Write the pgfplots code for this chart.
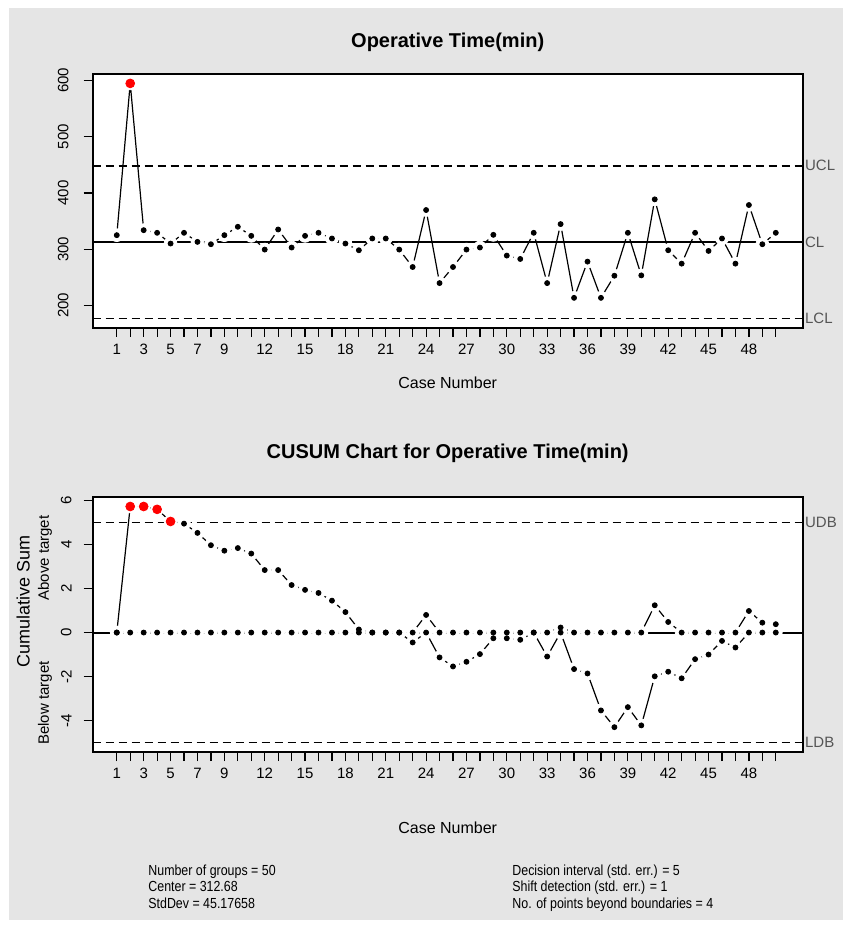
\documentclass[border=0pt]{standalone}
\usepackage{pgfplots}
\pgfplotsset{compat=1.18}
\usepackage{pgfplotstable}
\usepackage{fontspec}
\setmainfont{Liberation Sans}
\newfontfamily\narrowfont{Liberation Sans}[FakeStretch=0.85]
\definecolor{bggray}{RGB}{229,229,229}
\definecolor{lblgray}{RGB}{85,85,85}

\pgfplotstableread{
x y
1 324.9
2 594.7
3 333.8
4 329.1
5 310.0
6 329.1
7 313.0
8 308.8
9 324.9
10 339.8
11 323.7
12 299.3
13 335.0
14 302.9
15 323.7
16 329.1
17 319.0
18 310.0
19 298.1
20 319.0
21 319.0
22 299.3
23 268.3
24 369.6
25 239.7
26 268.3
27 299.3
28 302.9
29 325.5
30 288.6
31 282.6
32 329.1
33 239.7
34 344.6
35 213.5
36 277.9
37 213.5
38 252.8
39 329.1
40 253.4
41 388.6
42 298.1
43 274.3
44 329.1
45 296.9
46 319.0
47 274.3
48 378.5
49 308.8
50 329.1
}\optime

\pgfplotstableread{
x up lo
1 0 0
2 5.73 0
3 5.73 0
4 5.60 0
5 5.05 0
6 4.95 0
7 4.53 0
8 3.97 0
9 3.72 0
10 3.84 0
11 3.59 0
12 2.84 0
13 2.84 0
14 2.16 0
15 1.94 0
16 1.80 0
17 1.45 0
18 0.93 0
19 0.14 0
20 0 0
21 0 0
22 0 0
23 0 -0.45
24 0.80 0
25 0 -1.13
26 0 -1.54
27 0 -1.33
28 0 -0.98
29 0 -0.26
30 0 -0.26
31 0 -0.33
32 0 0
33 0 -1.09
34 0.23 0
35 0 -1.66
36 0 -1.86
37 0 -3.54
38 0 -4.30
39 0 -3.39
40 0 -4.22
41 1.24 -1.99
42 0.48 -1.78
43 0 -2.08
44 0 -1.21
45 0 -1.00
46 0 -0.38
47 0 -0.68
48 0.98 0
49 0.45 0
50 0.38 0
}\cusum

\pgfplotsset{
  qccaxis/.style={
    width=355pt, scale only axis,
    xmin=-0.79, xmax=52,
    axis background/.style={fill=white},
    axis line style={line width=0.9pt},
    tick align=outside, xtick pos=bottom, ytick pos=left,
    xtick={1,3,5,7,9,12,15,18,21,24,27,30,33,36,39,42,45,48},
    minor xtick={1,...,50},
    major tick length=4.5pt, minor tick length=4.5pt,
    every tick/.style={black, line width=0.6pt},
    minor tick style={black, line width=0.6pt},
    yticklabel style={rotate=90, anchor=south, font=\fontsize{7.5}{9}\selectfont},
    xticklabel style={font=\fontsize{7.5}{9}\selectfont},
    /pgf/number format/assume math mode=true,
    clip=false,
  },
  dataline/.style={black, line width=0.6pt, no marks},
  halo/.style={only marks, color=white, mark=*, mark size=3.2pt},
  dots/.style={only marks, color=black, mark=*, mark size=1.25pt},
  reddots/.style={only marks, color=red, mark=*, mark size=2.2pt},
  refsolid/.style={black, line width=1pt, no marks},
  refdash/.style={black, line width=0.7pt, dash pattern=on 4pt off 2.5pt, no marks},
}

\begin{document}
\begin{tikzpicture}
\path[use as bounding box] (0,0) rectangle (422.5pt,-463.5pt);
\fill[white] (0,0) rectangle (422.5pt,-463.5pt);
\fill[bggray] (4.5pt,-4.2pt) rectangle (421.5pt,-460pt);

% ---------- top chart ----------
\node[font=\bfseries\fontsize{10}{12}\selectfont] at (223.85pt,-21.3pt) {Operative Time(min)};
\begin{axis}[qccaxis,
  at={(46.35pt,-37pt)}, anchor=north west, height=126.85pt,
  ymin=160.4, ymax=611.4, ytick={200,300,400,500,600},
  yticklabel shift=4pt]
  \addplot[dataline] table[x=x,y=y] {\optime};
  \addplot[halo] table[x=x,y=y] {\optime};
  \addplot[refsolid] coordinates {(-0.79,312.68) (52,312.68)};
  \addplot[refdash] coordinates {(-0.79,448.21) (52,448.21)};
  \addplot[refdash] coordinates {(-0.79,177.15) (52,177.15)};
  \addplot[dots] table[x=x,y=y] {\optime};
  \addplot[reddots] coordinates {(2,594.7)};
  \node[anchor=west, inner sep=1pt, text=lblgray, font=\fontsize{7.5}{9}\selectfont] at (axis cs:52,448.21) {UCL};
  \node[anchor=west, inner sep=1pt, text=lblgray, font=\fontsize{7.5}{9}\selectfont] at (axis cs:52,312.68) {CL};
  \node[anchor=west, inner sep=1pt, text=lblgray, font=\fontsize{7.5}{9}\selectfont] at (axis cs:52,177.15) {LCL};
\end{axis}
\node[font=\fontsize{8}{10}\selectfont] at (223.85pt,-191.5pt) {Case Number};

% ---------- CUSUM chart ----------
\node[font=\bfseries\fontsize{10}{12}\selectfont] at (223.85pt,-226.5pt) {CUSUM Chart for Operative Time(min)};
\begin{axis}[qccaxis,
  at={(46.35pt,-248.4pt)}, anchor=north west, height=127.6pt,
  ymin=-5.43, ymax=6.17, ytick={-4,-2,0,2,4,6}, yticklabels={-4,-2,0,2,4,6},
  yticklabel shift=2.5pt]
  \addplot[dataline] table[x=x,y=up] {\cusum};
  \addplot[dataline] table[x=x,y=lo] {\cusum};
  \addplot[halo] table[x=x,y=up] {\cusum};
  \addplot[halo] table[x=x,y=lo] {\cusum};
  \addplot[refsolid] coordinates {(-0.79,0) (52,0)};
  \addplot[refdash] coordinates {(-0.79,5) (52,5)};
  \addplot[refdash] coordinates {(-0.79,-5) (52,-5)};
  \addplot[dots] table[x=x,y=up] {\cusum};
  \addplot[dots] table[x=x,y=lo] {\cusum};
  \addplot[reddots] coordinates {(2,5.73) (3,5.73) (4,5.60) (5,5.05)};
  \node[anchor=west, inner sep=1pt, text=lblgray, font=\fontsize{7.5}{9}\selectfont] at (axis cs:52,5) {UDB};
  \node[anchor=west, inner sep=1pt, text=lblgray, font=\fontsize{7.5}{9}\selectfont] at (axis cs:52,-5) {LDB};
\end{axis}
\node[rotate=90, font=\fontsize{9}{11}\selectfont] at (11.65pt,-300.5pt) {Cumulative Sum};
\node[rotate=90, font=\fontsize{7.5}{9}\selectfont] at (22.5pt,-279pt) {Above target};
\node[rotate=90, font=\fontsize{7.5}{9}\selectfont] at (22.5pt,-351.5pt) {Below target};
\node[font=\fontsize{8}{10}\selectfont] at (223.85pt,-414pt) {Case Number};

% ---------- footer ----------
\begin{scope}[every node/.style={anchor=base west, inner sep=0pt, font=\narrowfont\fontsize{7.3}{8.4}\selectfont}]
\node at (74pt,-437.5pt) {Number of groups = 50};
\node at (74pt,-445.5pt) {Center = 312.68};
\node at (74pt,-454pt) {StdDev = 45.17658};
\node at (256pt,-437.5pt) {Decision interval (std. err.) = 5};
\node at (256pt,-445.5pt) {Shift detection (std. err.) = 1};
\node at (256pt,-454pt) {No. of points beyond boundaries = 4};
\end{scope}
\end{tikzpicture}
\end{document}
